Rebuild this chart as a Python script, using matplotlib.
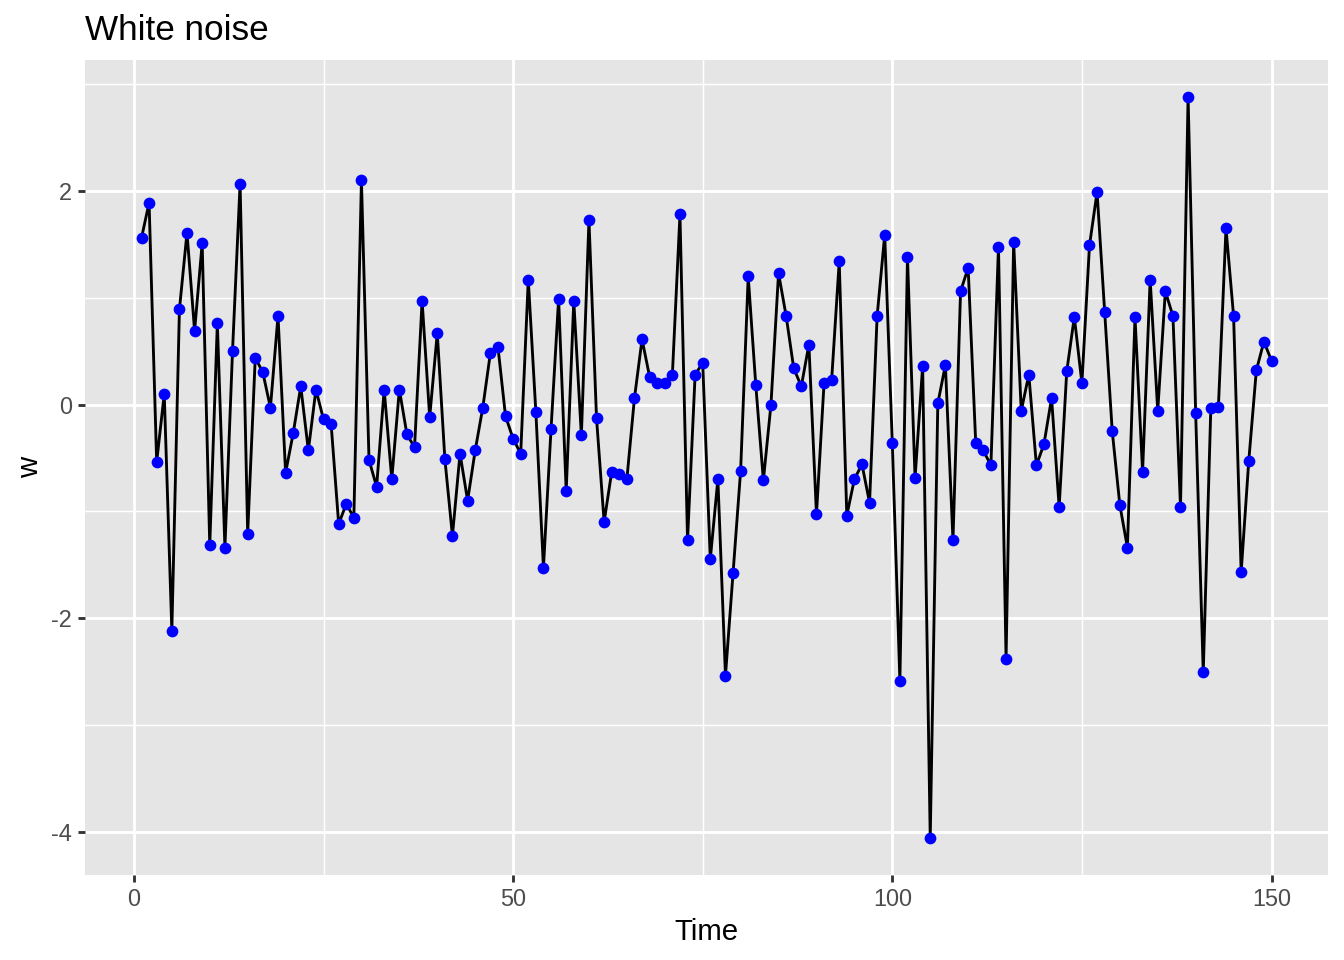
import matplotlib
matplotlib.use("Agg")
import matplotlib.pyplot as plt
import numpy as np

# white noise series (t = 1..150)
w = [1.56, 1.89, -0.54, 0.10, -2.12, 0.89, 1.61, 0.69, 1.51, -1.32,
     0.76, -1.34, 0.50, 2.07, -1.21, 0.44, 0.30, -0.03, 0.83, -0.64,
     -0.27, 0.17, -0.43, 0.14, -0.14, -0.18, -1.12, -0.93, -1.06, 2.10,
     -0.52, -0.77, 0.14, -0.70, 0.14, -0.28, -0.40, 0.97, -0.12, 0.67,
     -0.51, -1.23, -0.46, -0.90, -0.43, -0.03, 0.48, 0.54, -0.11, -0.32,
     -0.46, 1.17, -0.07, -1.53, -0.23, 0.99, -0.81, 0.97, -0.29, 1.73,
     -0.13, -1.10, -0.63, -0.65, -0.70, 0.06, 0.61, 0.26, 0.20, 0.20,
     0.28, 1.78, -1.27, 0.28, 0.39, -1.45, -0.70, -2.54, -1.58, -0.62,
     1.20, 0.18, -0.71, 0.00, 1.23, 0.83, 0.34, 0.17, 0.56, -1.03,
     0.20, 0.23, 1.34, -1.04, -0.70, -0.56, -0.92, 0.83, 1.59, -0.36,
     -2.59, 1.38, -0.69, 0.36, -4.06, 0.01, 0.37, -1.27, 1.06, 1.28,
     -0.36, -0.43, -0.57, 1.48, -2.38, 1.52, -0.06, 0.28, -0.57, -0.37,
     0.06, -0.96, 0.31, 0.82, 0.20, 1.49, 1.99, 0.87, -0.25, -0.94,
     -1.34, 0.82, -0.63, 1.17, -0.06, 1.06, 0.83, -0.96, 2.88, -0.08,
     -2.51, -0.03, -0.02, 1.65, 0.83, -1.57, -0.53, 0.32, 0.59, 0.41]
time = np.arange(1, len(w) + 1)

x_major = [0, 50, 100, 150]
x_minor = [25, 75, 125]
y_major = [-4, -2, 0, 2]
y_minor = [-3, -1, 1, 3]

plt.rcParams['font.family'] = ['Liberation Sans', 'DejaVu Sans']
plt.rcParams['axes.unicode_minus'] = False

fig = plt.figure(figsize=(7, 5), dpi=192)
ax = fig.add_axes([85/1344, 1 - 875/960, (1328-85)/1344, (875-60)/960])
ax.set_facecolor('#e5e5e5')
for s in ax.spines.values():
    s.set_visible(False)

# ggplot style grid
for v in x_minor:
    ax.axvline(v, color='white', lw=0.55, zorder=0)
for v in y_minor:
    ax.axhline(v, color='white', lw=0.55, zorder=0)
for v in x_major:
    ax.axvline(v, color='white', lw=1.07, zorder=0)
for v in y_major:
    ax.axhline(v, color='white', lw=1.07, zorder=0)

ax.plot(time, w, color='black', lw=1.07, zorder=2)
ax.plot(time, w, 'o', color='blue', ms=4.4, mew=0, zorder=3)

xr = max(time) - min(time)
yr = max(w) - min(w)
ax.set_xlim(min(time) - 0.05*xr, max(time) + 0.05*xr)
ax.set_ylim(min(w) - 0.05*yr, max(w) + 0.05*yr)

ax.set_xticks(x_major)
ax.set_yticks(y_major)
ax.tick_params(axis='both', length=2.75, width=1.07, color='#333333',
               labelcolor='#4d4d4d', labelsize=8.8, pad=2.2)
ax.set_xlabel('Time', fontsize=11, labelpad=2.5)
ax.set_ylabel('w', fontsize=11, labelpad=2.5)

fig.text(85/1344, 1 - 40/960, 'White noise', fontsize=13.2, ha='left', va='baseline')

fig.savefig('out.png', dpi=192)
